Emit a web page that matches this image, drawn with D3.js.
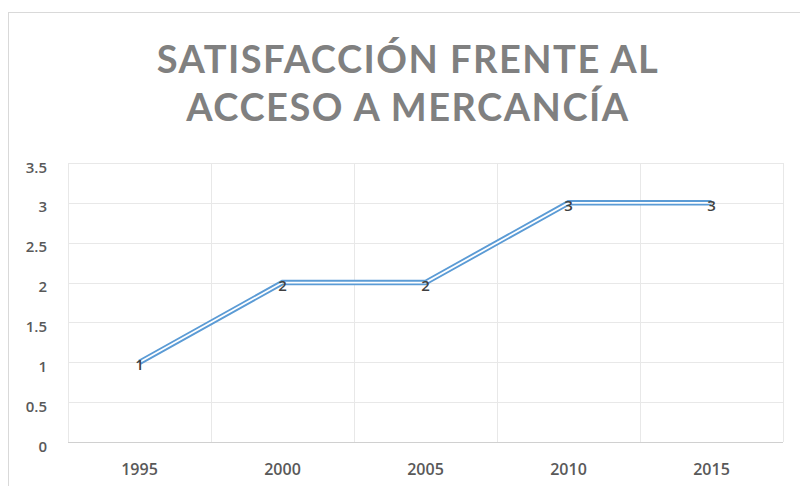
<!DOCTYPE html>
<html>
<head>
<meta charset="utf-8">
<script src="https://cdn.jsdelivr.net/npm/d3@7"></script>
<style>
  body { margin: 0; background: #fff; }
  svg { display: block; }
</style>
</head>
<body>
<div id="chart"></div>
<script>
"use strict";

// data
var years = ["1995", "2000", "2005", "2010", "2015"];
var values = [1, 2, 2, 3, 3];
var yTicks = [0, 0.5, 1, 1.5, 2, 2.5, 3, 3.5];
var titleLines = ["SATISFACCIÓN FRENTE AL", "ACCESO A MERCANCÍA"];

var W = 800, H = 486;
var margin = { top: 163, right: 17, bottom: 44, left: 68 },
    width = W - margin.left - margin.right,
    height = H - margin.top - margin.bottom;

var svg = d3.select("#chart")
            .append("svg")
            .attr("width", W)
            .attr("height", H);

// chart frame
svg.append("rect")
   .attr("x", 8.5).attr("y", 12.5)
   .attr("width", W + 10).attr("height", H + 10)
   .attr("fill", "none")
   .attr("stroke", "#d9d9d9");

// title
svg.append("g")
   .selectAll("text")
   .data(titleLines)
   .enter()
   .append("text")
   .attr("x", 408)
   .attr("y", function (d, i) { return 73 + i * 48; })
   .attr("text-anchor", "middle")
   .attr("font-family", "Lato, 'Open Sans', sans-serif")
   .attr("font-weight", "bold")
   .attr("font-size", 38)
   .attr("letter-spacing", 1.5)
   .attr("fill", "#808080")
   .text(function (d) { return d; });

var g = svg.append("g")
           .attr("transform", "translate(" + margin.left + "," + margin.top + ")");

var x = d3.scaleBand()
          .domain(years)
          .range([0, width]);

var y = d3.scaleLinear()
          .domain([0, 3.5])
          .range([height, 0]);

// horizontal grid
g.append("g")
 .selectAll("line")
 .data(yTicks)
 .enter()
 .append("line")
 .attr("x1", 0).attr("x2", width)
 .attr("y1", function (d) { return Math.round(y(d)) + 0.5; })
 .attr("y2", function (d) { return Math.round(y(d)) + 0.5; })
 .attr("stroke", function (d) { return d === 0 ? "#d0d0d0" : "#e8e8e8"; })
 .attr("stroke-width", 1);

// vertical grid at band edges
var edges = years.map(function (d) { return x(d); }).concat([width]);
g.append("g")
 .selectAll("line")
 .data(edges)
 .enter()
 .append("line")
 .attr("x1", function (d) { return Math.round(d) + 0.5; })
 .attr("x2", function (d) { return Math.round(d) + 0.5; })
 .attr("y1", 0).attr("y2", height)
 .attr("stroke", "#e8e8e8");

// y axis labels
var yAxis = d3.axisLeft(y)
              .tickValues(yTicks)
              .tickSize(0)
              .tickPadding(21)
              .tickFormat(function (d) { return d; });
var ya = g.append("g").call(yAxis);
ya.select(".domain").remove();
ya.selectAll("text")
  .attr("dy", "0.6em")
  .attr("font-family", "'Open Sans', sans-serif")
  .attr("font-size", 15)
  .attr("font-weight", 600)
  .attr("fill", "#595959");

// x axis labels
var xAxis = d3.axisBottom(x)
              .tickSize(0)
              .tickPadding(22);
var xa = g.append("g")
          .attr("transform", "translate(0," + height + ")")
          .call(xAxis);
xa.select(".domain").remove();
xa.selectAll("text")
  .attr("font-family", "'Open Sans', sans-serif")
  .attr("font-size", 16)
  .attr("font-weight", 600)
  .attr("fill", "#595959");

// the double line
var line = d3.line()
             .x(function (d, i) { return x(years[i]) + x.bandwidth() / 2; })
             .y(function (d) { return y(d); });

g.append("path")
 .datum(values)
 .attr("d", line)
 .attr("fill", "none")
 .attr("stroke", "#5b9bd5")
 .attr("stroke-width", 5.5);

g.append("path")
 .datum(values)
 .attr("d", line)
 .attr("fill", "none")
 .attr("stroke", "#ffffff")
 .attr("stroke-width", 1.8);

// data labels
g.append("g")
 .selectAll("text")
 .data(values)
 .enter()
 .append("text")
 .attr("x", function (d, i) { return x(years[i]) + x.bandwidth() / 2; })
 .attr("y", function (d) { return y(d) + 8; })
 .attr("text-anchor", "middle")
 .attr("font-family", "'Open Sans', sans-serif")
 .attr("font-size", 15)
 .attr("font-weight", 600)
 .attr("fill", "#404040")
 .text(function (d) { return d; });
</script>
</body>
</html>
